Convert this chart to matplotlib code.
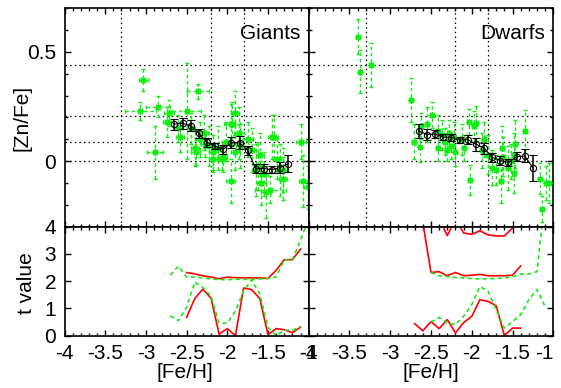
import numpy as np
import matplotlib
matplotlib.use("Agg")
import matplotlib.pyplot as plt
from matplotlib.ticker import MultipleLocator

plt.rcParams['font.family'] = ['Liberation Sans', 'DejaVu Sans']
plt.rcParams['font.size'] = 15

GREEN = '#11ee11'
RED = '#ff0000'

# ---- giants: individual stars ([Fe/H], [Zn/Fe], errors)
g_feh = [-3.03, -3.07, -2.85, -2.72, -2.89, -2.74, -2.58, -2.50, -2.36, -2.39,
         -2.29, -2.27, -2.22, -2.18, -2.07, -1.96, -1.91, -1.96, -1.90, -1.86,
         -1.94, -2.17, -2.05, -1.84, -1.60, -1.65, -1.52, -1.43, -1.35, -1.32,
         -1.09, -1.07, -1.01, -2.45, -2.33, -2.12, -2.02, -1.75, -1.70, -1.62,
         -1.55, -1.47, -1.39, -1.31, -1.45, -1.58, -2.60, -2.40]
g_zn = [0.37, 0.23, 0.25, 0.22, 0.04, 0.18, 0.11, 0.23, 0.32, 0.044,
        0.13, 0.08, 0.07, 0.01, 0.01, 0.17, 0.22, -0.09, 0.04, 0.13,
        0.17, 0.04, 0.02, 0.07, 0.03, -0.04, -0.14, 0.11, -0.04, -0.08,
        0.09, -0.09, -0.12, 0.15, 0.10, 0.06, 0.09, 0.10, 0.05, -0.02,
        -0.06, -0.13, 0.01, -0.04, 0.11, -0.10, 0.15, 0.06]
g_xe = [0.06, 0.19, 0.15, 0.06, 0.10, 0.05, 0.05, 0.18, 0.13, 0.06,
        0.05, 0.05, 0.06, 0.05, 0.05, 0.06, 0.05, 0.05, 0.05, 0.06,
        0.10, 0.05, 0.05, 0.05, 0.05, 0.05, 0.06, 0.05, 0.05, 0.05,
        0.06, 0.05, 0.05, 0.05, 0.05, 0.05, 0.05, 0.06, 0.05, 0.05,
        0.05, 0.19, 0.05, 0.05, 0.05, 0.05, 0.05, 0.05]
g_ye = [0.05, 0.04, 0.05, 0.06, 0.12, 0.07, 0.07, 0.22, 0.035, 0.06,
        0.08, 0.06, 0.09, 0.06, 0.05, 0.09, 0.10, 0.10, 0.08, 0.12,
        0.10, 0.08, 0.07, 0.10, 0.10, 0.12, 0.12, 0.10, 0.12, 0.10,
        0.08, 0.12, 0.10, 0.07, 0.08, 0.10, 0.09, 0.08, 0.10, 0.11,
        0.10, 0.06, 0.09, 0.10, 0.10, 0.10, 0.06, 0.08]

# ---- giants: running mean
gm_feh = [-2.65, -2.55, -2.45, -2.35, -2.25, -2.15, -2.05, -1.95, -1.85, -1.75,
          -1.65, -1.55, -1.45, -1.35, -1.25]
gm_zn = [0.170, 0.173, 0.163, 0.127, 0.086, 0.069, 0.054, 0.084, 0.084, 0.050,
         -0.034, -0.034, -0.039, -0.029, -0.011]
gm_err = [0.025, 0.025, 0.025, 0.02, 0.02, 0.015, 0.02, 0.025, 0.03, 0.02,
          0.02, 0.02, 0.015, 0.025, 0.04]

# ---- dwarfs: individual stars
d_feh = [-3.40, -3.37, -3.23, -2.75, -2.71, -2.63, -2.62, -2.49, -2.55, -2.42,
         -2.42, -2.36, -2.33, -2.30, -2.28, -2.25, -2.22, -2.20, -2.02, -2.04,
         -1.97, -1.95, -1.75, -1.70, -1.63, -1.62, -1.64, -1.48, -1.47, -1.35,
         -1.16, -1.14, -1.05, -1.09, -1.48, -1.88, -1.80, -1.55, -1.52, -2.12,
         -2.10, -1.85]
d_zn = [0.569, 0.41, 0.44, 0.28, 0.09, 0.067, 0.16, 0.212, 0.17, 0.14,
        0.06, 0.12, 0.09, 0.05, 0.13, 0.07, 0.11, 0.04, -0.086, 0.18,
        0.16, 0.174, -0.03, -0.04, 0.06, 0.02, -0.09, -0.055, 0.08, 0.136,
        -0.08, -0.22, -0.10, -0.10, 0.03, 0.05, 0.03, -0.03, 0.00, 0.10,
        0.06, 0.10]
d_ye = [0.08, 0.10, 0.10, 0.10, 0.08, 0.07, 0.06, 0.06, 0.08, 0.07,
        0.06, 0.07, 0.06, 0.05, 0.06, 0.06, 0.07, 0.06, 0.07, 0.06,
        0.07, 0.08, 0.08, 0.07, 0.10, 0.09, 0.10, 0.09, 0.11, 0.10,
        0.07, 0.06, 0.09, 0.08, 0.10, 0.08, 0.09, 0.10, 0.08, 0.07,
        0.06, 0.08]
d_xe = [0.0] * len(d_feh)

# ---- dwarfs: running mean
dm_feh = [-2.65, -2.55, -2.45, -2.35, -2.25, -2.15, -2.05, -1.95, -1.85, -1.75,
          -1.65, -1.55, -1.45, -1.35, -1.25]
dm_zn = [0.138, 0.122, 0.124, 0.110, 0.108, 0.096, 0.099, 0.078, 0.060, 0.018,
         0.003, -0.006, 0.020, 0.024, -0.030]
dm_err = [0.03, 0.025, 0.02, 0.015, 0.015, 0.015, 0.02, 0.03, 0.025, 0.02,
          0.02, 0.015, 0.02, 0.03, 0.06]

# ---- t values, giants
gt_feh = [-2.5, -2.4, -2.3, -2.2, -2.1, -2.0, -1.9, -1.8, -1.7, -1.6, -1.5, -1.4, -1.3, -1.2, -1.1]
gt_red_hi = [2.32, 2.27, 2.2, 2.15, 2.09, 2.15, 2.13, 2.12, 2.12, 2.12, 2.1, 2.4, 2.79, 2.79, 3.18]
gt_red_lo = [0.67, 1.36, 1.71, 1.38, 0.06, 0.26, 0.0, 1.75, 1.69, 1.36, 0.04, 0.26, 0.22, 0.11, 0.32]
gg_feh = [-2.7, -2.6, -2.5, -2.4, -2.3, -2.2, -2.1, -2.0, -1.9, -1.8, -1.7, -1.6, -1.5, -1.4,
          -1.3, -1.2, -1.1, -1.0]
gt_grn_hi = [2.22, 2.55, 2.15, 2.15, 2.12, 2.08, 2.06, 2.06, 2.07, 2.07, 2.07, 2.08, 2.1, 2.15,
             2.78, 2.78, 3.52, 4.3]
gt_grn_lo = [0.73, 0.55, 1.05, 1.97, 1.77, 1.45, 0.46, 0.46, 0.9, 1.64, 2.05, 1.52, 0.3, 0.0,
             0.2, 0.2, 0.32, np.nan]

# ---- t values, dwarfs
dt_feh = [-2.7, -2.6, -2.5, -2.4, -2.3, -2.2, -2.1, -2.0, -1.9, -1.8, -1.7, -1.6, -1.5, -1.4]
dt_red_top = [5.0, 4.6, 4.3, 4.3, 3.67, 4.3, 3.77, 3.72, 3.85, 3.7, 3.66, 3.66, 3.95, 4.5]
dt_red_mid = [6.0, 4.15, 2.32, 2.35, 2.2, 2.32, 2.2, 2.22, 2.25, 2.2, 2.2, 2.2, 2.22, 2.56]
dt_red_lo = [0.44, 0.18, 0.52, 0.26, 0.59, 0.1, 0.48, 0.71, 1.32, 1.26, 1.1, 0.0, 0.28, 0.28]
dg_feh = [-2.5, -2.4, -2.3, -2.2, -2.1, -2.0, -1.9, -1.8, -1.7, -1.6, -1.5, -1.4, -1.3, -1.2, -1.1]
dt_grn_hi = [2.32, 2.2, 2.17, 2.14, 2.12, 2.1, 2.08, 2.09, 2.1, 2.12, 2.17, 2.26, 2.26, 2.35, 5.1]
dt_grn_lo = [0.5, 0.67, 0.47, 0.4, 0.71, 1.14, 1.8, 1.64, 0.95, 0.28, 0.52, 0.77, 1.32, 1.69, 1.07]

# grid lines in the upper panels
grid_x = [-3.3, -2.2, -1.8]
grid_y = [0.44, 0.208, 0.09, 0.0]

W, H = 561, 388
fig = plt.figure(figsize=(W / 100, H / 100), dpi=100)


def box(l, t, r, b):
    return [l / W, 1 - b / H, (r - l) / W, (b - t) / H]


ax_g = fig.add_axes(box(64.5, 8.3, 308.7, 226.7))
ax_d = fig.add_axes(box(308.7, 8.3, 553.3, 226.7))
ax_gt = fig.add_axes(box(64.5, 226.7, 308.7, 335.7))
ax_dt = fig.add_axes(box(308.7, 226.7, 553.3, 335.7))

star = (8, 2, 0)


def stars(ax, x, y, xe, ye):
    eb = ax.errorbar(x, y, xerr=xe, yerr=ye, fmt='none', ecolor=GREEN,
                     elinewidth=1.0, capsize=1.5, capthick=1.0, zorder=2)
    for lc in eb[2]:
        lc.set_linestyle((0, (2.5, 2)))
    ax.plot(x, y, linestyle='none', marker=star, ms=5, mew=0.9,
            color=GREEN, zorder=3)


def mean_line(ax, x, y, e):
    ax.errorbar(x, y, yerr=e, color='black', lw=0.8, marker='o', ms=4.5,
                mfc='none', mec='black', mew=0.8, ecolor='black',
                elinewidth=1.1, capsize=2.8, capthick=1.1, zorder=5)


for ax in (ax_g, ax_d):
    for gx in grid_x:
        ax.axvline(gx, color='black', lw=0.9, ls=(0, (1.2, 2.5)), zorder=1)
    for gy in grid_y:
        ax.axhline(gy, color='black', lw=0.9, ls=(0, (1.2, 2.5)), zorder=1)

stars(ax_g, g_feh, g_zn, g_xe, g_ye)
mean_line(ax_g, gm_feh, gm_zn, gm_err)
stars(ax_d, d_feh, d_zn, d_xe, d_ye)
mean_line(ax_d, dm_feh, dm_zn, dm_err)

ax_gt.plot(gt_feh, gt_red_hi, color=RED, lw=1.2)
ax_gt.plot(gt_feh, gt_red_lo, color=RED, lw=1.2)
ax_gt.plot(gg_feh, gt_grn_hi, color=GREEN, lw=1.2, ls=(0, (2.5, 2)))
ax_gt.plot(gg_feh, gt_grn_lo, color=GREEN, lw=1.2, ls=(0, (2.5, 2)))

ax_dt.plot(dt_feh, dt_red_top, color=RED, lw=1.2)
ax_dt.plot(dt_feh, dt_red_mid, color=RED, lw=1.2)
ax_dt.plot(dt_feh, dt_red_lo, color=RED, lw=1.2)
ax_dt.plot(dg_feh, dt_grn_hi, color=GREEN, lw=1.2, ls=(0, (2.5, 2)))
ax_dt.plot(dg_feh, dt_grn_lo, color=GREEN, lw=1.2, ls=(0, (2.5, 2)))

for ax in (ax_g, ax_d, ax_gt, ax_dt):
    ax.set_xlim(-4, -1)
    ax.xaxis.set_major_locator(MultipleLocator(0.5))
    ax.xaxis.set_minor_locator(MultipleLocator(0.1))
    ax.tick_params(which='both', direction='in', top=True, right=True,
                   width=1.0, labelsize=15)
    ax.tick_params(which='major', length=4.5, pad=6)
    ax.tick_params(which='minor', length=2.5)
    for s in ax.spines.values():
        s.set_linewidth(1.2)

for ax in (ax_g, ax_d):
    ax.set_ylim(-0.3, 0.7)
    ax.yaxis.set_major_locator(MultipleLocator(0.5))
    ax.yaxis.set_minor_locator(MultipleLocator(0.1))
    ax.tick_params(labelbottom=False)
ax_g.set_yticks([0, 0.5])
ax_g.set_yticklabels(['0', '0.5'])
ax_d.tick_params(labelleft=False)

for ax in (ax_gt, ax_dt):
    ax.set_ylim(0, 4)
    ax.yaxis.set_major_locator(MultipleLocator(1))
    ax.set_xticks([-4, -3.5, -3, -2.5, -2, -1.5, -1])
    ax.set_xticklabels(['-4', '-3.5', '-3', '-2.5', '-2', '-1.5', '-1'])
ax_dt.tick_params(labelleft=False)
ax_dt.get_xticklabels()[-1].set_horizontalalignment('right')

ax_g.text(0.965, 0.93, 'Giants', transform=ax_g.transAxes, ha='right', va='top', fontsize=15)
ax_d.text(0.965, 0.93, 'Dwarfs', transform=ax_d.transAxes, ha='right', va='top', fontsize=15)

fig.text(22 / W, 1 - 118 / H, '[Zn/Fe]', rotation=90, ha='center', va='center', fontsize=15)
fig.text(26 / W, 1 - 283 / H, 't value', rotation=90, ha='center', va='center', fontsize=15)
fig.text(185 / W, 1 - 372 / H, '[Fe/H]', ha='center', va='center', fontsize=15)
fig.text(431 / W, 1 - 372 / H, '[Fe/H]', ha='center', va='center', fontsize=15)

fig.savefig('out.png', dpi=100)
